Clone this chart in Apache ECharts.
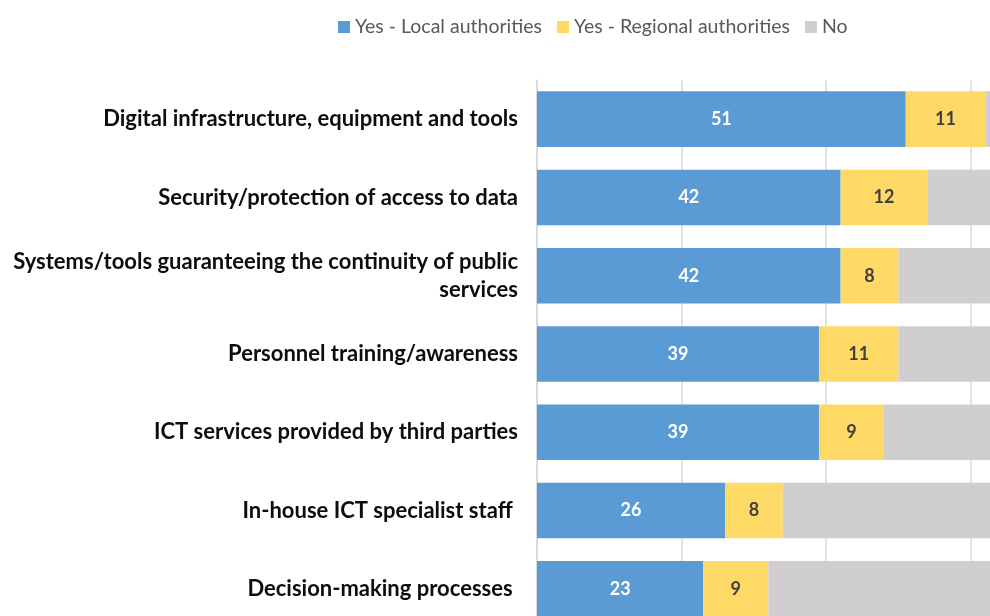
<!DOCTYPE html>
<html><head><meta charset="utf-8">
<script src="https://cdn.jsdelivr.net/npm/echarts@6/dist/echarts.min.js"></script>
<style>html,body{margin:0;padding:0;background:#fff}#c{width:990px;height:616px}</style>
</head><body><div id="c"></div>
<script>
const categories = [
  "Digital infrastructure, equipment and tools",
  "Security/protection of access to data",
  "Systems/tools guaranteeing the continuity of public\nservices",
  "Personnel training/awareness",
  "ICT services provided by third parties",
  "In-house ICT specialist staff ",
  "Decision-making processes "
];
const localAuth = [51, 42, 42, 39, 39, 26, 23];
const regionalAuth = [11, 12, 8, 11, 9, 8, 9];
const noValues = [38, 46, 50, 50, 52, 66, 68];

const chart = echarts.init(document.getElementById('c'));
const lblFont = 'Lato, "Open Sans", sans-serif';
chart.setOption({
  animation: false,
  textStyle: {fontFamily: lblFont},
  legend: {
    top: 12, left: 333, itemWidth: 12, itemHeight: 12, itemGap: 15,
    icon: 'rect',
    textStyle: {fontSize: 19.5, color: '#595959', fontFamily: lblFont},
    data: ['Yes - Local authorities', 'Yes - Regional authorities', 'No']
  },
  grid: {left: 537, top: 80, width: 723, height: 548, containLabel: false, outerBoundsMode: 'none'},
  xAxis: {
    type: 'value', min: 0, max: 100, interval: 20,
    axisLabel: {show: false}, axisTick: {show: false}, axisLine: {show: false},
    splitLine: {lineStyle: {color: '#d9d9d9', width: 1.5}}
  },
  yAxis: {
    type: 'category', inverse: true, data: categories,
    axisTick: {show: false},
    axisLine: {show: true, lineStyle: {color: '#d9d9d9', width: 1.5}},
    axisLabel: {margin: 19, fontSize: 22, fontWeight: 'bold', color: '#0d0d0d',
      fontFamily: lblFont, lineHeight: 28, align: 'right'}
  },
  series: [
    {name: 'Yes - Local authorities', type: 'bar', stack: 't', data: localAuth,
     barCategoryGap: '29%', itemStyle: {color: '#5B9BD5'},
     label: {show: true, position: 'inside', color: '#ffffff', fontSize: 18, fontWeight: 'bold', fontFamily: lblFont}},
    {name: 'Yes - Regional authorities', type: 'bar', stack: 't', data: regionalAuth,
     itemStyle: {color: '#FFD966'},
     label: {show: true, position: 'inside', color: '#404040', fontSize: 18, fontWeight: 'bold', fontFamily: lblFont}},
    {name: 'No', type: 'bar', stack: 't', data: noValues,
     itemStyle: {color: '#D0CECE'},
     label: {show: true, position: 'inside', color: '#404040', fontSize: 18, fontWeight: 'bold', fontFamily: lblFont}}
  ]
});
</script></body></html>
